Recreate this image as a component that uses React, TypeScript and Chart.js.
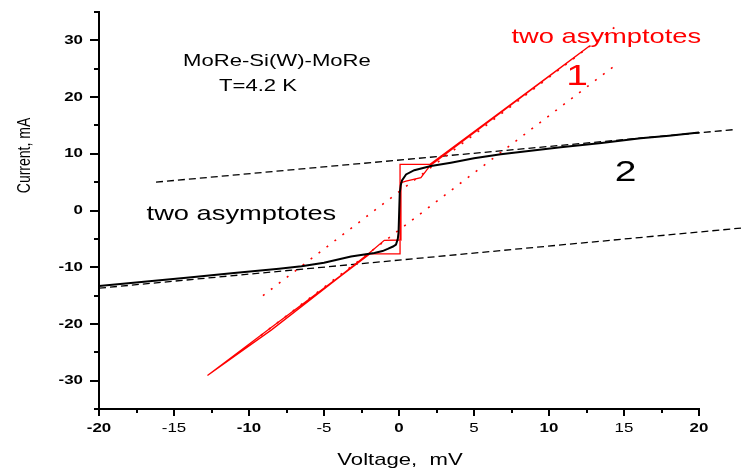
import React, { useEffect, useRef } from 'react';
import { Chart, registerables } from 'chart.js';

Chart.register(...registerables);

// ---- axis ticks ----
const xTickValues = [-20, -15, -10, -5, 0, 5, 10, 15, 20];
const yTickValues = [-30, -20, -10, 0, 10, 20, 30];
const xMinorTicks = [-17.5, -12.5, -7.5, -2.5, 2.5, 7.5, 12.5, 17.5];
const yMinorTicks = [-35, -25, -15, -5, 5, 15, 25, 35];

// ---- curve 2 (black, MoRe-Si(W)-MoRe) ----
const curve2V = [-20, -17, -14, -11, -8, -6.5, -5, -3.2, -2.2, -1.64, -1.1, -0.75, -0.4, -0.2, -0.08, -0.03, 0.05, 0.12, 0.2, 0.47, 1.02, 2.13, 3.46, 5, 6.79, 10.78, 13.5, 16.1, 18, 20];
const curve2I = [-13.3, -12.55, -11.8, -11.0, -10.25, -9.84, -9.2, -8.1, -7.7, -7.48, -7.15, -6.77, -6.35, -6.0, -5.0, -3.9, 3.1, 4.5, 5.3, 6.36, 7.1, 7.83, 8.43, 9.2, 9.9, 11.15, 11.9, 12.72, 13.2, 13.75];

// ---- curve 1 (red, hysteretic) ----
const curve1V = [-12.77, -8.5, -3.9, -1.95, 0.07, 0.07, 2.07, 12.7, 2.07, 1.46, 0.47, 0.13, 0.13, -0.98, -1.98, -3.9, -8.5, -12.77];
const curve1I = [-29.1, -21.05, -11.6, -7.65, -7.65, 8.13, 8.13, 29.0, 7.9, 5.8, 5.2, 4.9, -5.2, -5.25, -7.5, -11.5, -20.6, -29.1];

// ---- asymptotes of curve 2 (black dashed) ----
const asym2UpperV = [-16.2, 22.5];
const asym2UpperI = [5.0, 14.3];
const asym2LowerV = [-20, 22.8];
const asym2LowerI = [-13.7, -3.1];

// ---- asymptotes of curve 1 (red dotted) ----
const asym1AV = [-9.07, 14.77];
const asym1AI = [-15.0, 33.1];
const asym1BV = [-9.2, 14.66];
const asym1BI = [-22.0, 26.1];

// ---- annotations (data coordinates) ----
const sampleLabel = ['MoRe-Si(W)-MoRe', -14.4, 25.4];
const tempLabel = ['T=4.2 K', -12.0, 21.07];
const blackAsymLabel = ['two asymptotes', -16.83, -1.59];
const redAsymLabel = ['two asymptotes', 7.5, 29.48];
const curve1Label = ['1', 11.87, 22.13];
const curve2Label = ['2', 15.11, 5.2];
const xTitle = 'Voltage,  mV';
const yTitle = 'Current, mA';

const FONT = '"Liberation Sans", Arial, Helvetica, sans-serif';
const STRETCH = 1.3;

function pts(xs: number[], ys: number[]) {
  return xs.map((x, i) => ({ x, y: ys[i] }));
}

function drawText(ctx: CanvasRenderingContext2D, text: string, x: number, y: number, font: string, color: string, align: CanvasTextAlign, sx: number) {
  ctx.save();
  ctx.font = font;
  ctx.fillStyle = color;
  ctx.textAlign = align;
  ctx.textBaseline = 'alphabetic';
  ctx.translate(x, y);
  ctx.scale(sx, 1);
  ctx.fillText(text, 0, 0);
  ctx.restore();
}

const customPlugin = {
  id: 'customDraw',
  beforeDraw(chart: any) {
    const ctx = chart.ctx as any;
    const prev = ctx.fillText;
    chart.$prevFill = prev;
    ctx.fillText = function (text: string, x: number, y: number, maxWidth?: number) {
      this.save();
      this.translate(x, y);
      this.scale(STRETCH, 1);
      if (maxWidth === undefined) prev.call(this, text, 0, 0);
      else prev.call(this, text, 0, 0, maxWidth / STRETCH);
      this.restore();
    };
  },
  afterDraw(chart: any) {
    const ctx = chart.ctx as CanvasRenderingContext2D;
    (ctx as any).fillText = chart.$prevFill;
    const xs = chart.scales.x;
    const ys = chart.scales.y;
    // minor ticks
    ctx.save();
    ctx.strokeStyle = '#000';
    ctx.lineWidth = 2;
    xMinorTicks.forEach((v) => {
      const px = Math.round(xs.getPixelForValue(v));
      ctx.beginPath();
      ctx.moveTo(px, xs.top);
      ctx.lineTo(px, xs.top + 4);
      ctx.stroke();
    });
    yMinorTicks.forEach((v) => {
      const py = Math.round(ys.getPixelForValue(v));
      ctx.beginPath();
      ctx.moveTo(ys.right, py);
      ctx.lineTo(ys.right - 5, py);
      ctx.stroke();
    });
    ctx.restore();

    const at = (l: any[]) => [xs.getPixelForValue(l[1]), ys.getPixelForValue(l[2])];
    let p = at(sampleLabel);
    drawText(ctx, sampleLabel[0] as string, p[0], p[1], `17px ${FONT}`, '#000', 'left', STRETCH);
    p = at(tempLabel);
    drawText(ctx, tempLabel[0] as string, p[0], p[1], `17px ${FONT}`, '#000', 'left', STRETCH);
    p = at(blackAsymLabel);
    drawText(ctx, blackAsymLabel[0] as string, p[0], p[1], `21px ${FONT}`, '#000', 'left', STRETCH);
    p = at(redAsymLabel);
    drawText(ctx, redAsymLabel[0] as string, p[0], p[1], `21px ${FONT}`, '#ff0000', 'left', STRETCH);
    p = at(curve1Label);
    drawText(ctx, curve1Label[0] as string, p[0], p[1], `30px ${FONT}`, '#ff0000', 'center', STRETCH);
    p = at(curve2Label);
    drawText(ctx, curve2Label[0] as string, p[0], p[1], `30px ${FONT}`, '#000', 'center', STRETCH);

    // axis titles
    const ca = chart.chartArea;
    drawText(ctx, xTitle, (ca.left + ca.right) / 2 + 1, 465, `17px ${FONT}`, '#000', 'center', STRETCH);
    ctx.save();
    ctx.font = `14px ${FONT}`;
    ctx.fillStyle = '#000';
    ctx.textAlign = 'center';
    ctx.textBaseline = 'middle';
    ctx.translate(25, 155.5);
    ctx.rotate(-Math.PI / 2);
    ctx.scale(1, 1.35);
    ctx.fillText(yTitle, 0, 0);
    ctx.restore();
  },
};

export default function App() {
  const ref = useRef<HTMLCanvasElement | null>(null);
  useEffect(() => {
    if (!ref.current) return;
    const chart = new Chart(ref.current, {
      type: 'line',
      data: {
        datasets: [
          {
            data: pts(curve2V, curve2I),
            borderColor: '#000',
            borderWidth: 2,
            pointRadius: 0,
            tension: 0,
            fill: false,
          },
          {
            data: pts(curve1V, curve1I),
            borderColor: '#ff0000',
            borderWidth: 1.3,
            pointRadius: 0,
            tension: 0,
            fill: false,
          },
          {
            data: pts(asym1AV, asym1AI),
            borderColor: '#ff0000',
            borderWidth: 1.6,
            borderDash: [2, 8],
            pointRadius: 0,
            fill: false,
          },
          {
            data: pts(asym1BV, asym1BI),
            borderColor: '#ff0000',
            borderWidth: 1.6,
            borderDash: [2, 8],
            pointRadius: 0,
            fill: false,
          },
          {
            data: pts(asym2UpperV, asym2UpperI),
            borderColor: '#000',
            borderWidth: 1.3,
            borderDash: [7, 4],
            pointRadius: 0,
            fill: false,
            clip: false,
          },
          {
            data: pts(asym2LowerV, asym2LowerI),
            borderColor: '#000',
            borderWidth: 1.3,
            borderDash: [7, 4],
            pointRadius: 0,
            fill: false,
            clip: false,
          },
        ],
      } as any,
      options: {
        animation: false,
        responsive: false,
        maintainAspectRatio: false,
        devicePixelRatio: 1,
        layout: { padding: { left: 0, top: 12, right: 44, bottom: 0 } },
        plugins: { legend: { display: false }, tooltip: { enabled: false } },
        scales: {
          x: {
            type: 'linear',
            min: -20,
            max: 20,
            position: 'bottom',
            afterBuildTicks: (s: any) => {
              s.ticks = xTickValues.map((v) => ({ value: v }));
            },
            afterFit: (s: any) => {
              s.height = 61;
              s.paddingLeft = 0;
              s.paddingRight = 0;
            },
            ticks: {
              color: '#000',
              padding: 5,
              autoSkip: false,
              maxRotation: 0,
              font: (c: any) => ({
                family: FONT,
                size: 13,
                weight: c.tick && c.tick.value % 10 === 0 ? 'bold' : 'normal',
              }),
            },
            grid: { drawOnChartArea: false, drawTicks: true, tickLength: 7, color: '#000', lineWidth: 2 },
            border: { display: true, color: '#000', width: 2 },
          },
          y: {
            type: 'linear',
            min: -35,
            max: 35,
            afterBuildTicks: (s: any) => {
              s.ticks = yTickValues.map((v) => ({ value: v }));
            },
            afterFit: (s: any) => {
              s.width = 99;
              s.paddingTop = 0;
              s.paddingBottom = 0;
            },
            ticks: {
              color: '#000',
              padding: 7,
              autoSkip: false,
              font: { family: FONT, size: 13, weight: 'bold' },
            },
            grid: { drawOnChartArea: false, drawTicks: true, tickLength: 9, color: '#000', lineWidth: 2 },
            border: { display: true, color: '#000', width: 2 },
          },
        },
      } as any,
      plugins: [customPlugin as any],
    });
    return () => chart.destroy();
  }, []);
  return (
    <div style={{ position: 'absolute', left: 0, top: 0, width: 743, height: 470, background: '#fff' }}>
      <canvas ref={ref} width={743} height={470} style={{ display: 'block', width: 743, height: 470 }} />
    </div>
  );
}
